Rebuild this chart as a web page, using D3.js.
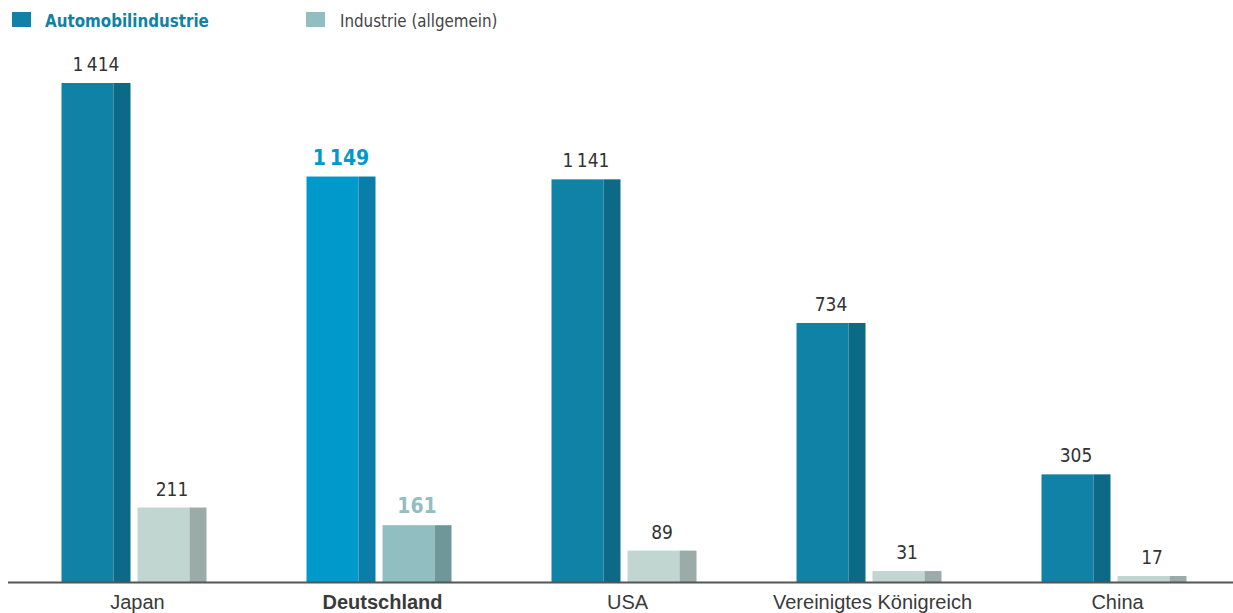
<!DOCTYPE html>
<html>
<head>
<meta charset="utf-8">
<script src="https://cdn.jsdelivr.net/npm/d3@7/dist/d3.min.js"></script>
<style>
  html, body { margin: 0; padding: 0; background: #fff; }
  svg { display: block; font-family: "DejaVu Sans Condensed", "Liberation Sans Narrow", "Roboto", sans-serif; }
</style>
</head>
<body>
<svg id="chart" width="1233" height="613"></svg>
<script>
// Roboterdichte: Automobilindustrie vs. Industrie (allgemein)
const countries = ["Japan", "Deutschland", "USA", "Vereinigtes Königreich", "China"];
const automobil = [1414, 1149, 1141, 734, 305];
const industrie = [211, 161, 89, 31, 17];
const highlight = "Deutschland";
const seriesNames = ["Automobilindustrie", "Industrie (allgemein)"];

const W = 1233, H = 613;
const baseY = 582;
const svg = d3.select("#chart");

const de = d3.formatLocale({ decimal: ",", thousands: "\u2009", grouping: [3], currency: ["", " €"] });
const fmt = de.format(",d");

const x = d3.scaleBand().domain(countries).range([12, 1237]).padding(0);
const y = d3.scaleLinear().domain([0, 1414]).range([baseY, 83]);

const colors = {
  auto:     { face: "#0f82a5", side: "#0c6a86" },
  autoHi:   { face: "#0099cc", side: "#0a7ea8" },
  ind:      { face: "#c2d6d1", side: "#9baba8" },
  indHi:    { face: "#91bfc1", side: "#6f9798" }
};

const rows = countries.map((c, i) => ({ c, a: automobil[i], n: industrie[i] }));

const barW = 52, sideW = 17;

function drawBar(g, x0, v, col) {
  const top = y(v);
  g.append("rect").attr("x", x0).attr("y", top).attr("width", barW).attr("height", baseY - top).attr("fill", col.face);
  g.append("rect").attr("x", x0 + barW).attr("y", top).attr("width", sideW).attr("height", baseY - top).attr("fill", col.side);
}

function valueLabel(g, cx, v, hi, hiColor) {
  g.append("text")
    .attr("x", cx).attr("y", y(v) - 12)
    .attr("text-anchor", "middle")
    .attr("font-size", hi ? 21 : 19)
    .attr("font-weight", hi ? 700 : 400)
    .attr("fill", hi ? hiColor : "#333")
    .text(fmt(v));
}

const groups = svg.append("g").selectAll("g").data(rows).join("g");
groups.each(function(d) {
  const g = d3.select(this);
  const cx = x(d.c) + x.bandwidth() / 2;
  const hi = d.c === highlight;
  const ax = cx - 73;
  const ix = cx + 3;
  drawBar(g, ax, d.a, hi ? colors.autoHi : colors.auto);
  drawBar(g, ix, d.n, hi ? colors.indHi : colors.ind);
  valueLabel(g, ax + (barW + sideW) / 2, d.a, hi, colors.autoHi.face);
  valueLabel(g, ix + (barW + sideW) / 2, d.n, hi, colors.indHi.face);
});

// baseline
svg.append("line").attr("x1", 8).attr("x2", W).attr("y1", baseY + 0.5).attr("y2", baseY + 0.5)
  .attr("stroke", "#555").attr("stroke-width", 2);

// category axis
const xAxis = svg.append("g").attr("transform", `translate(0,${baseY})`)
  .call(d3.axisBottom(x).tickSize(0).tickPadding(0));
xAxis.select(".domain").remove();
xAxis.selectAll("text")
  .attr("y", 27)
  .attr("dy", 0)
  .attr("font-size", 20)
  .attr("fill", "#3a3a3a")
  .attr("font-family", null)
  .attr("font-weight", d => d === highlight ? 700 : 400)
  .attr("dx", 3);

// legend
const legend = svg.append("g");
legend.append("rect").attr("x", 12).attr("y", 12).attr("width", 19).attr("height", 15).attr("fill", colors.auto.face);
legend.append("text").attr("x", 45).attr("y", 27).attr("font-size", 16.8).attr("font-weight", 700)
  .attr("fill", colors.auto.face).text(seriesNames[0]);
legend.append("rect").attr("x", 306).attr("y", 12).attr("width", 19).attr("height", 15).attr("fill", colors.indHi.face);
legend.append("text").attr("x", 340).attr("y", 27).attr("font-size", 16.8).attr("font-weight", 400)
  .attr("fill", "#444").text(seriesNames[1]);
</script>
</body>
</html>
